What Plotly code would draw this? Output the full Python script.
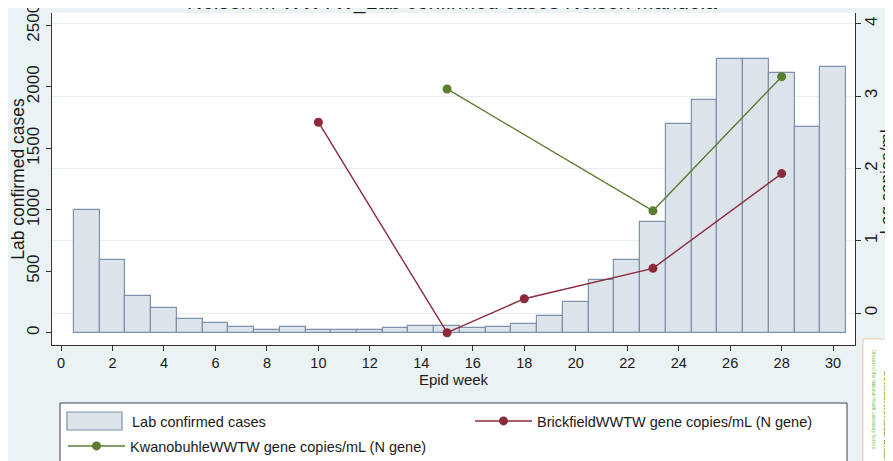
import plotly.graph_objects as go

weeks = list(range(1, 31))
lab_cases = [1000, 590, 300, 203, 114, 79, 46, 24, 46, 22,
             22, 22, 36, 57, 55, 38, 49, 71, 136, 247,
             425, 590, 902, 1701, 1893, 2223, 2223, 2112, 1669, 2158]

brick_weeks = [10, 15, 18, 23, 28]
brick_log = [2.64, -0.27, 0.20, 0.62, 1.93]

kwano_weeks = [15, 23, 28]
kwano_log = [3.10, 1.415, 3.27]

title_text = "Nelson M WWTW_Lab confirmed cases Nelson Mandela"
y2_title = "Log copies/mL"
FONT = "Liberation Sans, Arial, sans-serif"
TXT = "#1a1a1a"
BAR_FILL = "#dde3eb"
BAR_LINE = "#7d91ab"

# The page body adds an 8px offset; figure pixel = reference pixel - 8.
W, H = 893, 461
L, R, T, B = 44, 847, 5, 337
def px(fx):
    return (fx - L) / (R - L)
def py(fy):
    return (B - fy) / (B - T)

fig = go.Figure()
fig.add_trace(go.Bar(
    x=weeks, y=lab_cases, width=1.0, name="Lab confirmed cases",
    marker=dict(color=BAR_FILL, line=dict(color=BAR_LINE, width=1.2)),
    yaxis="y", showlegend=False, legendgroup="lab",
))
# legend entry for the bars (glyph drawn as a box shape below)
fig.add_trace(go.Scatter(
    x=[None], y=[None], mode="markers", name="Lab confirmed cases",
    marker=dict(opacity=0, color=BAR_FILL), legendgroup="lab",
    yaxis="y", legend="legend",
))
fig.add_trace(go.Scatter(
    x=brick_weeks, y=brick_log, mode="lines+markers",
    name="BrickfieldWWTW gene copies/mL (N gene)",
    line=dict(color="#8c2a3a", width=1.4),
    marker=dict(color="#8c2a3a", size=9),
    yaxis="y2", legend="legend2",
))
fig.add_trace(go.Scatter(
    x=kwano_weeks, y=kwano_log, mode="lines+markers",
    name="KwanobuhleWWTW gene copies/mL (N gene)",
    line=dict(color="#5b7d2f", width=1.4),
    marker=dict(color="#5b7d2f", size=9),
    yaxis="y2", legend="legend3",
))

leg_common = dict(
    orientation="h", xanchor="left", yanchor="middle",
    bgcolor="rgba(0,0,0,0)", borderwidth=0,
    font=dict(size=14.5, color=TXT, family=FONT), itemwidth=57,
    itemclick=False, itemdoubleclick=False,
)

fig.update_layout(
    width=W, height=H,
    margin=dict(l=L, r=W - R, t=T, b=H - B, autoexpand=False),
    paper_bgcolor="#eaf2f3",
    plot_bgcolor="#ffffff",
    font=dict(family=FONT, color=TXT, size=15),
    bargap=0,
    showlegend=True,
    legend=dict(x=px(57), y=py(413), **leg_common),
    legend2=dict(x=px(462), y=py(413), **leg_common),
    legend3=dict(x=px(55), y=py(438), **leg_common),
    xaxis=dict(
        range=[-0.35, 30.85], tickvals=list(range(0, 31, 2)),
        ticks="outside", ticklen=5, tickcolor="#333333",
        showline=True, linecolor="#333333", linewidth=1,
        showgrid=False, zeroline=False,
        title=dict(text="Epid week", font=dict(size=15), standoff=2),
        tickfont=dict(size=14.5),
    ),
    yaxis=dict(
        range=[-100, 2600], tickvals=[0, 500, 1000, 1500, 2000, 2500],
        tickangle=-90, ticks="outside", ticklen=5, tickcolor="#333333",
        showline=True, linecolor="#333333", linewidth=1,
        showgrid=False, zeroline=False, ticklabeloverflow="allow",
        title=dict(text="Lab confirmed cases", font=dict(size=17.5), standoff=1),
        tickfont=dict(size=17),
    ),
    yaxis2=dict(
        overlaying="y", side="right",
        range=[-0.44, 4.15], tickvals=[0, 1, 2, 3, 4],
        tickangle=-90, ticks="outside", ticklen=5, tickcolor="#333333",
        showline=True, linecolor="#333333", linewidth=1,
        showgrid=True, gridcolor="#e6eef0", gridwidth=1, zeroline=False,
        ticklabeloverflow="allow", ticklabelstandoff=-4,
        tickfont=dict(size=17),
    ),
    annotations=[
        dict(text=title_text, xref="paper", yref="paper", x=px(444), y=py(8),
             xanchor="center", yanchor="bottom", showarrow=False,
             font=dict(size=21, color=TXT)),
        dict(text=y2_title, xref="paper", yref="paper", x=px(877.5), y=py(171),
             xanchor="center", yanchor="middle", textangle=-90, showarrow=False,
             font=dict(size=17, color=TXT)),
        dict(text="<b>COMMUNICABLE DISEAS</b>", xref="paper", yref="paper",
             x=px(878), y=py(360), xanchor="center", yanchor="top", textangle=90,
             showarrow=False, font=dict(size=8, color="#5aab2a")),
        dict(text="Division of the National Health Laboratory Service", xref="paper", yref="paper",
             x=px(865), y=py(340), xanchor="center", yanchor="top", textangle=90,
             showarrow=False, font=dict(size=4.5, color="#6fbf3a")),
    ],
    shapes=[
        dict(type="rect", xref="paper", yref="paper", x0=px(52), x1=px(839),
             y0=py(470), y1=py(395), line=dict(color="#404040", width=1),
             fillcolor="#ffffff", layer="below"),
        dict(type="rect", xref="paper", yref="paper", x0=px(59), x1=px(114),
             y0=py(422), y1=py(404), line=dict(color=BAR_LINE, width=1.2),
             fillcolor=BAR_FILL, layer="above"),
        dict(type="rect", xref="paper", yref="paper", x0=px(855), x1=px(900),
             y0=py(470), y1=py(331), line=dict(color="#f5c9a8", width=1),
             fillcolor="#ffffff", layer="below"),
    ],
)

fig.write_html("out.html")
